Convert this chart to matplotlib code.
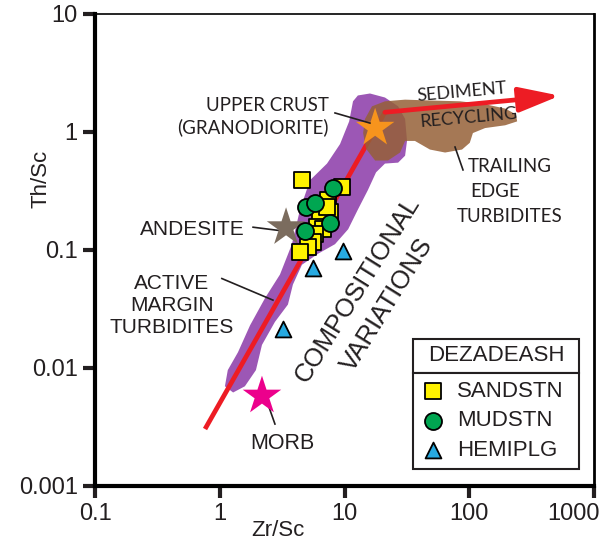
import numpy as np
import matplotlib.pyplot as plt
import matplotlib.transforms as mtransforms
from matplotlib.patches import Polygon, Rectangle

plt.rcParams['font.family'] = ['Liberation Sans', 'DejaVu Sans']

# Dezadeash samples (Zr/Sc, Th/Sc)
sand_zr_sc = [4.56, 9.55, 7.38, 7.66, 6.37, 6.03, 6.73, 5.81, 5.60, 5.10, 4.40, 7.24]
sand_th_sc = [0.39, 0.34, 0.266, 0.211, 0.192, 0.158, 0.150, 0.136, 0.117, 0.106, 0.096, 0.232]
mud_zr_sc = [8.09, 4.91, 5.81, 7.66, 4.82]
mud_th_sc = [0.334, 0.232, 0.251, 0.168, 0.144]
hemi_zr_sc = [9.73, 5.60, 3.21]
hemi_th_sc = [0.098, 0.070, 0.0215]

# reference compositions (stars)
ref_names = ['UPPER CRUST', 'ANDESITE', 'MORB']
ref_zr_sc = [17.6, 3.4, 2.18]
ref_th_sc = [1.08, 0.155, 0.0058]
ref_colors = ['#f7941d', '#7b6c5e', '#ec008c']

# active margin turbidite field outline
amt_zr_sc = [11.7, 12.8, 16.0, 21.1, 26.9, 30.6, 31.7, 30.6, 26.9, 21.1, 17.9, 15.4,
             12.8, 10.7, 8.39, 6.14, 4.56, 3.86, 3.52, 2.77, 2.18, 1.95, 1.59, 1.28,
             1.10, 1.16, 1.40, 1.75, 2.31, 3.04, 3.79, 4.40, 5.29, 7.24, 9.21, 10.9]
amt_th_sc = [1.82, 2.04, 2.12, 1.96, 1.65, 1.29, 0.84, 0.63, 0.55, 0.54, 0.455, 0.322,
             0.220, 0.150, 0.112, 0.093, 0.075, 0.051, 0.0345, 0.0246, 0.0157, 0.0096,
             0.0070, 0.0062, 0.0070, 0.0096, 0.0136, 0.0230, 0.0392, 0.0620, 0.112,
             0.220, 0.390, 0.54, 0.79, 1.23]

# trailing edge turbidite field outline
ted_zr_sc = [14.6, 16.6, 21.1, 30.6, 48.4, 84.3, 134, 194, 237, 242, 194, 134, 107,
             101, 87.5, 64.0, 48.4, 36.7, 30.6, 27.9, 22.3, 17.6, 14.9, 14.1]
ted_th_sc = [1.29, 1.65, 1.82, 1.88, 1.85, 1.82, 1.72, 1.58, 1.41, 1.23, 1.14, 1.08, 0.98,
             0.81, 0.71, 0.67, 0.71, 0.84, 0.84, 0.67, 0.573, 0.573, 0.72, 0.98]

# compositional trend and sediment recycling arrow
trend_zr_sc = [0.762, 21.1]
trend_th_sc = [0.00304, 1.47]
recycle_zr_sc = [21.1, 533]
recycle_th_sc = [1.47, 2.03]

xticks = [0.1, 1, 10, 100, 1000]
xticklabels = ['0.1', '1', '10', '100', '1000']
yticks = [0.001, 0.01, 0.1, 1, 10]
yticklabels = ['0.001', '0.01', '0.1', '1', '10']

red = '#ed1c24'
ink = '#231f20'

fig = plt.figure(figsize=(6.02, 5.46), dpi=100)
ax = fig.add_axes([95 / 602, 60 / 546, 499 / 602, 472 / 546])
ax.set_xscale('log')
ax.set_yscale('log')
ax.set_xlim(0.1, 1000)
ax.set_ylim(0.001, 10)

# fields
ax.add_patch(Polygon(np.column_stack([amt_zr_sc, amt_th_sc]), closed=True,
                     facecolor='#9c57b5', edgecolor='none', zorder=1))
ax.plot(trend_zr_sc, trend_th_sc, color=red, lw=3.4, solid_capstyle='butt', zorder=2)
ax.add_patch(Polygon(np.column_stack([ted_zr_sc, ted_th_sc]), closed=True,
                     facecolor='#956037', edgecolor='none', alpha=0.85, zorder=3))
ax.annotate('', xy=(recycle_zr_sc[1], recycle_th_sc[1]),
            xytext=(recycle_zr_sc[0], recycle_th_sc[0]),
            arrowprops=dict(arrowstyle='-|>,head_length=1.25,head_width=0.38',
                            mutation_scale=20, color=red, lw=3.4,
                            shrinkA=0, shrinkB=0), zorder=4)

# stars
for name, x, y, c in zip(ref_names, ref_zr_sc, ref_th_sc, ref_colors):
    ax.scatter(x, y, marker='*', s=850, color=c, edgecolors='none', zorder=5)

# samples
ax.scatter(sand_zr_sc, sand_th_sc, marker='s', s=120, facecolor='#fff200',
           edgecolors='black', linewidths=1.3, zorder=6, label='SANDSTN')
ax.scatter(mud_zr_sc, mud_th_sc, marker='o', s=150, facecolor='#00a651',
           edgecolors='black', linewidths=1.3, zorder=7, label='MUDSTN')
ax.scatter(hemi_zr_sc, hemi_th_sc, marker='^', s=130, facecolor='#27aae1',
           edgecolors='black', linewidths=1.3, zorder=6, label='HEMIPLG')

# labels with leader lines
lab_font = ['Lato', 'DejaVu Sans']
ax.text(7.52, 1.35, 'UPPER CRUST\n(GRANODIORITE)', ha='right', va='center',
        multialignment='right', fontsize=13.5, family=lab_font, linespacing=1.25, color=ink)
ax.plot([8.39, 16.0], [1.45, 1.19], color=ink, lw=1.2, zorder=5)
ax.text(87.5, 2.2, 'SEDIMENT', ha='center', va='center', rotation=5,
        fontsize=13, family=lab_font, color=ink, zorder=8)
ax.text(100, 1.32, 'RECYCLING', ha='center', va='center', rotation=5,
        fontsize=13, family=lab_font, color=ink, zorder=8)
ax.text(212, 0.515, 'TRAILING', ha='center', va='center',
        fontsize=13.5, family=lab_font, color=ink)
ax.text(101, 0.316, 'EDGE', ha='left', va='center',
        fontsize=13.5, family=lab_font, color=ink)
ax.text(212, 0.194, 'TURBIDITES', ha='center', va='center',
        fontsize=13.5, family=lab_font, color=ink)
ax.plot([76.9, 89.1], [0.746, 0.477], color=ink, lw=1.2, zorder=5)
ax.text(0.6, 0.150, 'ANDESITE', ha='center', va='center', fontsize=15, color=ink)
ax.plot([1.85, 3.04], [0.156, 0.146], color=ink, lw=1.2, zorder=4)
ax.text(0.414, 0.0341, 'ACTIVE\nMARGIN\nTURBIDITES', ha='center', va='center',
        fontsize=15, linespacing=1.2, color=ink)
ax.plot([1.04, 2.67], [0.0573, 0.0376], color=ink, lw=1.2, zorder=4)
ax.text(12.8, 0.0464, 'COMPOSITIONAL', ha='center', va='center', rotation=58,
        rotation_mode='anchor', fontsize=18.5, color=ink)
ax.text(21.9, 0.0341, 'VARIATIONS', ha='center', va='center', rotation=58,
        rotation_mode='anchor', fontsize=18.5, color=ink)
ax.text(3.16, 0.00228, 'MORB', ha='center', va='center', fontsize=15.5, color=ink)
ax.plot([2.39, 2.77], [0.00521, 0.00335], color=ink, lw=1.2, zorder=4)

# legend: title box above an entries box
box_x0, box_w, box_split, box_top = 0.637, 0.333, 0.239, 0.312
ax.add_patch(Rectangle((box_x0, box_split), box_w, box_top - box_split,
                       transform=ax.transAxes, facecolor='white', edgecolor=ink,
                       lw=1.5, zorder=9))
ax.text(box_x0 + box_w / 2, (box_split + box_top) / 2, 'DEZADEASH', transform=ax.transAxes,
        ha='center', va='center', fontsize=16, color=ink, zorder=10)
leg = ax.legend(loc='upper left', bbox_to_anchor=(box_x0, box_split, box_w, 0),
                mode='expand', borderaxespad=0, fontsize=16, frameon=True,
                fancybox=False, edgecolor=ink, framealpha=1, scatterpoints=1,
                borderpad=0.35, labelspacing=0.38, handlelength=1.1, handletextpad=0.55)
leg.get_frame().set_linewidth(1.5)
leg.set_zorder(9)
for t in leg.get_texts():
    t.set_color(ink)

# axes styling
ax.set_xticks(xticks)
ax.set_xticklabels(xticklabels)
ax.set_yticks(yticks)
ax.set_yticklabels(yticklabels)
ax.minorticks_off()
ax.tick_params(axis='both', which='major', direction='out', length=8.5, width=3,
               labelsize=17, pad=4, colors=ink)
# last x label sits left of its tick so it stays inside the figure
last = ax.get_xticklabels()[-1]
last.set_horizontalalignment('right')
last.set_transform(last.get_transform() +
                   mtransforms.ScaledTranslation(6 / 100, 0, fig.dpi_scale_trans))
for side in ['left', 'bottom']:
    ax.spines[side].set_linewidth(3)
ax.spines['top'].set_linewidth(1.2)
ax.spines['right'].set_linewidth(2)
ax.set_xlabel('Zr/Sc', fontsize=16, color=ink)
ax.set_ylabel('Th/Sc', fontsize=16, color=ink)
ax.xaxis.set_label_coords(0.367, -0.071)
ax.yaxis.set_label_coords(-0.088, 0.65)

plt.savefig('out.png', dpi=100)
plt.close()
